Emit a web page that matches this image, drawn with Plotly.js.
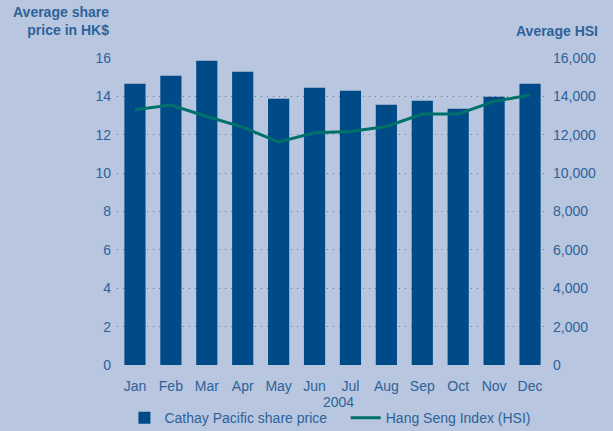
<!DOCTYPE html>
<html><head><meta charset="utf-8">
<script src="https://cdn.plot.ly/plotly-3.0.1.min.js"></script>
<style>body{margin:0;background:#b9c6df}</style>
</head><body>
<div id="chart" style="width:613px;height:431px"></div>
<script>
const months = ["Jan","Feb","Mar","Apr","May","Jun","Jul","Aug","Sep","Oct","Nov","Dec"];
const sharePrice = [14.66,15.08,15.86,15.28,13.88,14.45,14.29,13.56,13.77,13.35,13.98,14.66];
const hsi = [13300,13550,12950,12400,11620,12100,12170,12430,13080,13080,13740,14070];
const leftTicks = [0,2,4,6,8,10,12,14,16];
const rightTicks = [0,2000,4000,6000,8000,10000,12000,14000,16000];
const rightTickText = ["0","2,000","4,000","6,000","8,000","10,000","12,000","14,000","16,000"];
const yearLabel = "2004";

const txt = "#2d6299";
const font = {family:"Liberation Sans, Arial, sans-serif", size:14, color:txt};

const data = [
  {type:"bar", x:months, y:sharePrice, name:"Cathay Pacific share price",
   marker:{color:"#004b87"}, yaxis:"y", hoverinfo:"x+y", legend:"legend"},
  {type:"scatter", mode:"lines", x:months, y:hsi, name:"Hang Seng Index (HSI)",
   line:{color:"#00706b", width:3}, yaxis:"y2", legend:"legend2"}
];

const legBase = {orientation:"h", xanchor:"left", xref:"container", yref:"container", y:0.03, yanchor:"middle",
                 font:{size:14, color:txt}, bgcolor:"rgba(0,0,0,0)"};

const layout = {
  width:613, height:431,
  paper_bgcolor:"#b9c6df", plot_bgcolor:"#b9c6df",
  font:font,
  margin:{l:117, r:65, t:58, b:66},
  bargap:0.41,
  showlegend:true,
  legend:Object.assign({}, legBase, {x:0.203}),
  legend2:Object.assign({}, legBase, {x:0.564}),
  xaxis:{tickfont:{size:14,color:txt}, showgrid:false, zeroline:false, showline:false, ticks:"",
         ticklabelstandoff:11},
  yaxis:{range:[0,16], tickvals:leftTicks, showgrid:true, gridcolor:"#5a80b0", griddash:"1px,5px",
         gridwidth:1, zeroline:false, showline:false, ticks:"", tickfont:{size:14,color:txt},
         ticklabelstandoff:5},
  yaxis2:{range:[0,16000], overlaying:"y", side:"right", tickvals:rightTicks, ticktext:rightTickText,
          showgrid:false, zeroline:false, showline:false, ticks:"", tickfont:{size:14,color:txt},
          ticklabelstandoff:4},
  annotations:[
    {xref:"paper", yref:"paper", x:-0.014, y:1.058, xanchor:"right", yanchor:"bottom", align:"right",
     showarrow:false, text:"<b>Average share<br>price in HK$</b>", font:{size:14,color:txt}},
    {xref:"paper", yref:"paper", x:1.121, y:1.055, xanchor:"right", yanchor:"bottom", align:"right",
     showarrow:false, text:"<b>Average HSI</b>", font:{size:14,color:txt}},
    {xref:"paper", yref:"paper", x:0.515, y:-0.12, xanchor:"center", yanchor:"middle",
     showarrow:false, text:yearLabel, font:{size:14,color:txt}}
  ]
};
Plotly.newPlot("chart", data, layout, {displayModeBar:false});
</script>
</body></html>
